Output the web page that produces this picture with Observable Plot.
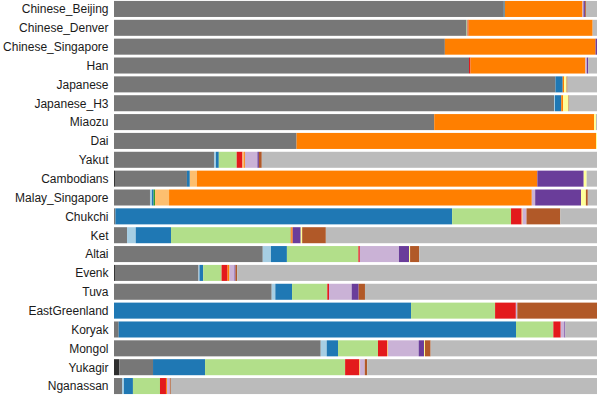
<!DOCTYPE html>
<html>
<head>
<meta charset="utf-8">
<script src="https://cdn.jsdelivr.net/npm/d3@7"></script>
<script src="https://cdn.jsdelivr.net/npm/@observablehq/plot@0.6"></script>
<style>
  html, body { margin: 0; padding: 0; background: #fff; }
  #chart svg { display: block; }
</style>
</head>
<body>
<div id="chart"></div>
<script>
const populations = ["Chinese_Beijing","Chinese_Denver","Chinese_Singapore","Han","Japanese","Japanese_H3","Miaozu","Dai","Yakut","Cambodians","Malay_Singapore","Chukchi","Ket","Altai","Evenk","Tuva","EastGreenland","Koryak","Mongol","Yukagir","Nganassan"];

const components = ["K1","K2","K3","K4","K5","K6","K7","K8","K9","K10","K11","K12","K13","K14","K15"];
const componentColors = ["#2e2e2e","#777777","#a6cee3","#1f78b4","#b2df8a","#33a02c","#fb9a99","#e31a1c","#fdbf6f","#ff7f00","#cab2d6","#6a3d9a","#ffff99","#b15928","#bbbbbb"];

// ancestry proportions per component, one value per population (in order above)
const K1  = [0,0,0,0,0,0,0,0,0,0.002,0,0,0,0,0.002,0,0,0,0,0.011,0];
const K2  = [0.807,0.730,0.685,0.735,0.914,0.911,0.663,0.378,0.207,0.149,0.0745,0.003,0.027,0.308,0.173,0.3265,0,0.0097,0.428,0.0698,0.0166];
const K3  = [0,0,0,0,0,0.002,0,0,0.004,0,0.004,0,0.018,0.017,0.002,0.0075,0,0,0.0124,0,0.004];
const K4  = [0.002,0,0,0,0.015,0.013,0,0,0.006,0.006,0.0035,0.697,0.073,0.033,0.0077,0.0346,0.615,0.8226,0.0234,0.1077,0.0186];
const K5  = [0,0.002,0,0,0,0,0,0,0.037,0,0,0.122,0.248,0.148,0.038,0.073,0.174,0.0773,0.0828,0.29,0.056];
const K6  = [0,0,0,0,0,0,0,0,0,0,0.003,0,0,0,0,0,0,0,0,0,0];
const K7  = [0,0,0,0,0,0,0,0,0,0,0,0,0,0,0,0,0,0,0,0,0];
const K8  = [0,0.002,0,0.003,0,0,0,0,0.012,0,0,0.022,0.001,0.003,0.0124,0.0035,0.043,0.0153,0.0186,0.029,0.0124];
const K9  = [0,0,0,0,0,0,0,0,0.003,0.0145,0.029,0.002,0,0,0,0,0,0,0.002,0.002,0];
const K10 = [0.161,0.257,0.312,0.238,0.003,0.004,0.331,0.620,0.002,0.705,0.751,0,0.003,0,0.004,0,0,0,0,0,0.002];
const K11 = [0.002,0,0,0.003,0,0,0,0,0.026,0,0.007,0.008,0,0.081,0.0104,0.047,0.003,0.0075,0.0636,0.0097,0.006];
const K12 = [0.003,0,0.003,0.003,0,0,0,0,0.003,0.096,0.095,0,0.0166,0.021,0.002,0.0145,0,0.002,0.011,0,0];
const K13 = [0,0,0,0,0.005,0.011,0.004,0.002,0,0.006,0.010,0,0.003,0.002,0,0,0,0,0.002,0,0];
const K14 = [0.002,0,0,0,0.002,0.001,0,0,0.006,0,0.004,0.070,0.049,0.019,0.0035,0.013,0.165,0,0.0118,0.005,0.002];
const K15 = [0.023,0.009,0,0.018,0.061,0.058,0.002,0,0.694,0.0215,0.019,0.076,0.5614,0.368,0.745,0.4804,0,0.0656,0.3444,0.4758,0.8824];

const series = [K1,K2,K3,K4,K5,K6,K7,K8,K9,K10,K11,K12,K13,K14,K15];

const rows = [];
populations.forEach((pop, i) => {
  components.forEach((comp, k) => {
    rows.push({pop, comp, value: series[k][i]});
  });
});

const chart = Plot.plot({
  width: 600,
  height: 395,
  marginLeft: 114,
  marginRight: 3,
  marginTop: 0,
  marginBottom: 0,
  style: {fontFamily: "'Liberation Sans', Arial, sans-serif", fontSize: "12px", color: "#1a1a1a", background: "#fff"},
  x: {axis: null, domain: [0, 1]},
  y: {domain: populations, paddingInner: 0.15, paddingOuter: 0.05, round: false, label: null, tickSize: 0, tickPadding: 6},
  color: {domain: components, range: componentColors},
  marks: [
    Plot.barX(rows, Plot.stackX({x: "value", y: "pop", fill: "comp", offset: "normalize"})),
    Plot.axisY({tickSize: 0, tickPadding: 6, fontSize: 12, label: null})
  ]
});
document.getElementById("chart").appendChild(chart);
</script>
</body>
</html>
